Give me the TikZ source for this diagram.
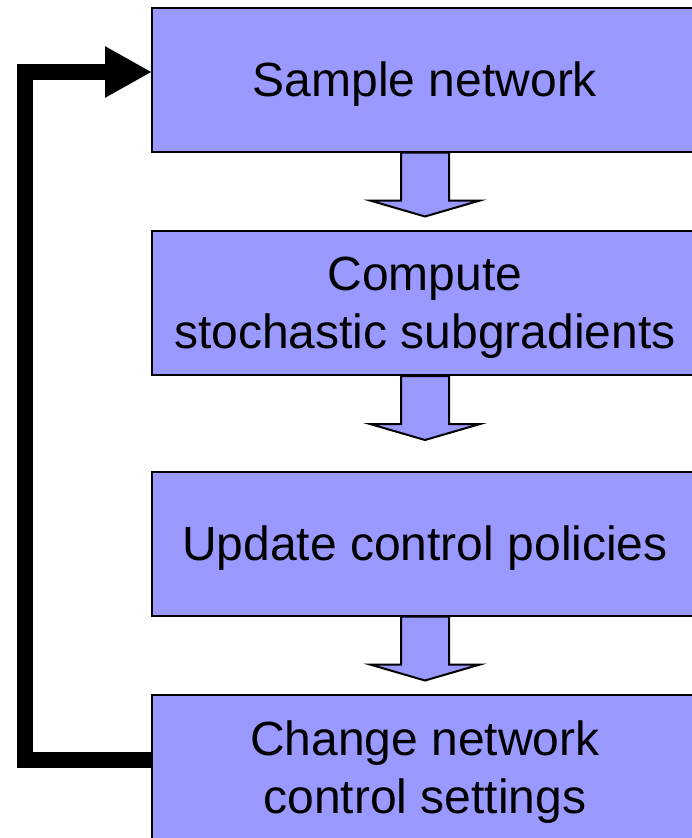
\documentclass[tikz,border=0pt]{standalone}
\usepackage{fontspec}
\setmainfont{Liberation Sans}
\usetikzlibrary{arrows.meta}
\definecolor{boxblue}{HTML}{9999FF}

\begin{document}
\begin{tikzpicture}[x=1pt,y=-1pt,
                    step box/.style={rectangle,draw,line width=2pt,fill=boxblue,
                      minimum width=546pt,minimum height=144pt,align=center,
                      text depth=-3pt,font=\fontsize{48}{58}\selectfont},
                    down arrow/.style={draw,line width=2pt,fill=boxblue,line join=miter}]

  \useasboundingbox (0,0) rectangle (692,838);
  \clip (0,0) rectangle (692,838);

  \node[step box] (1) at (425,79.5) {Sample network};
  \node[step box] (2) at (425,303) {Compute\\stochastic subgradients};
  \node[step box] (3) at (425,543.5) {Update control policies};
  \node[step box] (4) at (425,767) {Change network\\control settings};

  % block arrows between the steps
  \foreach \a in {1,2,3}
    \draw[down arrow] (\a.south) ++(-24,0) -- ++(48,0) -- ++(0,48) -- ++(31,0)
      -- ++(-55,16) -- ++(-55,-16) -- ++(31,0) -- cycle;

  % loop back to the first step
  \coordinate (back out) at (152,760);
  \coordinate (back in) at (152,72);
  \draw[line width=16pt,-{Triangle[length=47pt,width=48pt]}]
    (back out) -| (25,72) -- (back in);
\end{tikzpicture}
\end{document}
